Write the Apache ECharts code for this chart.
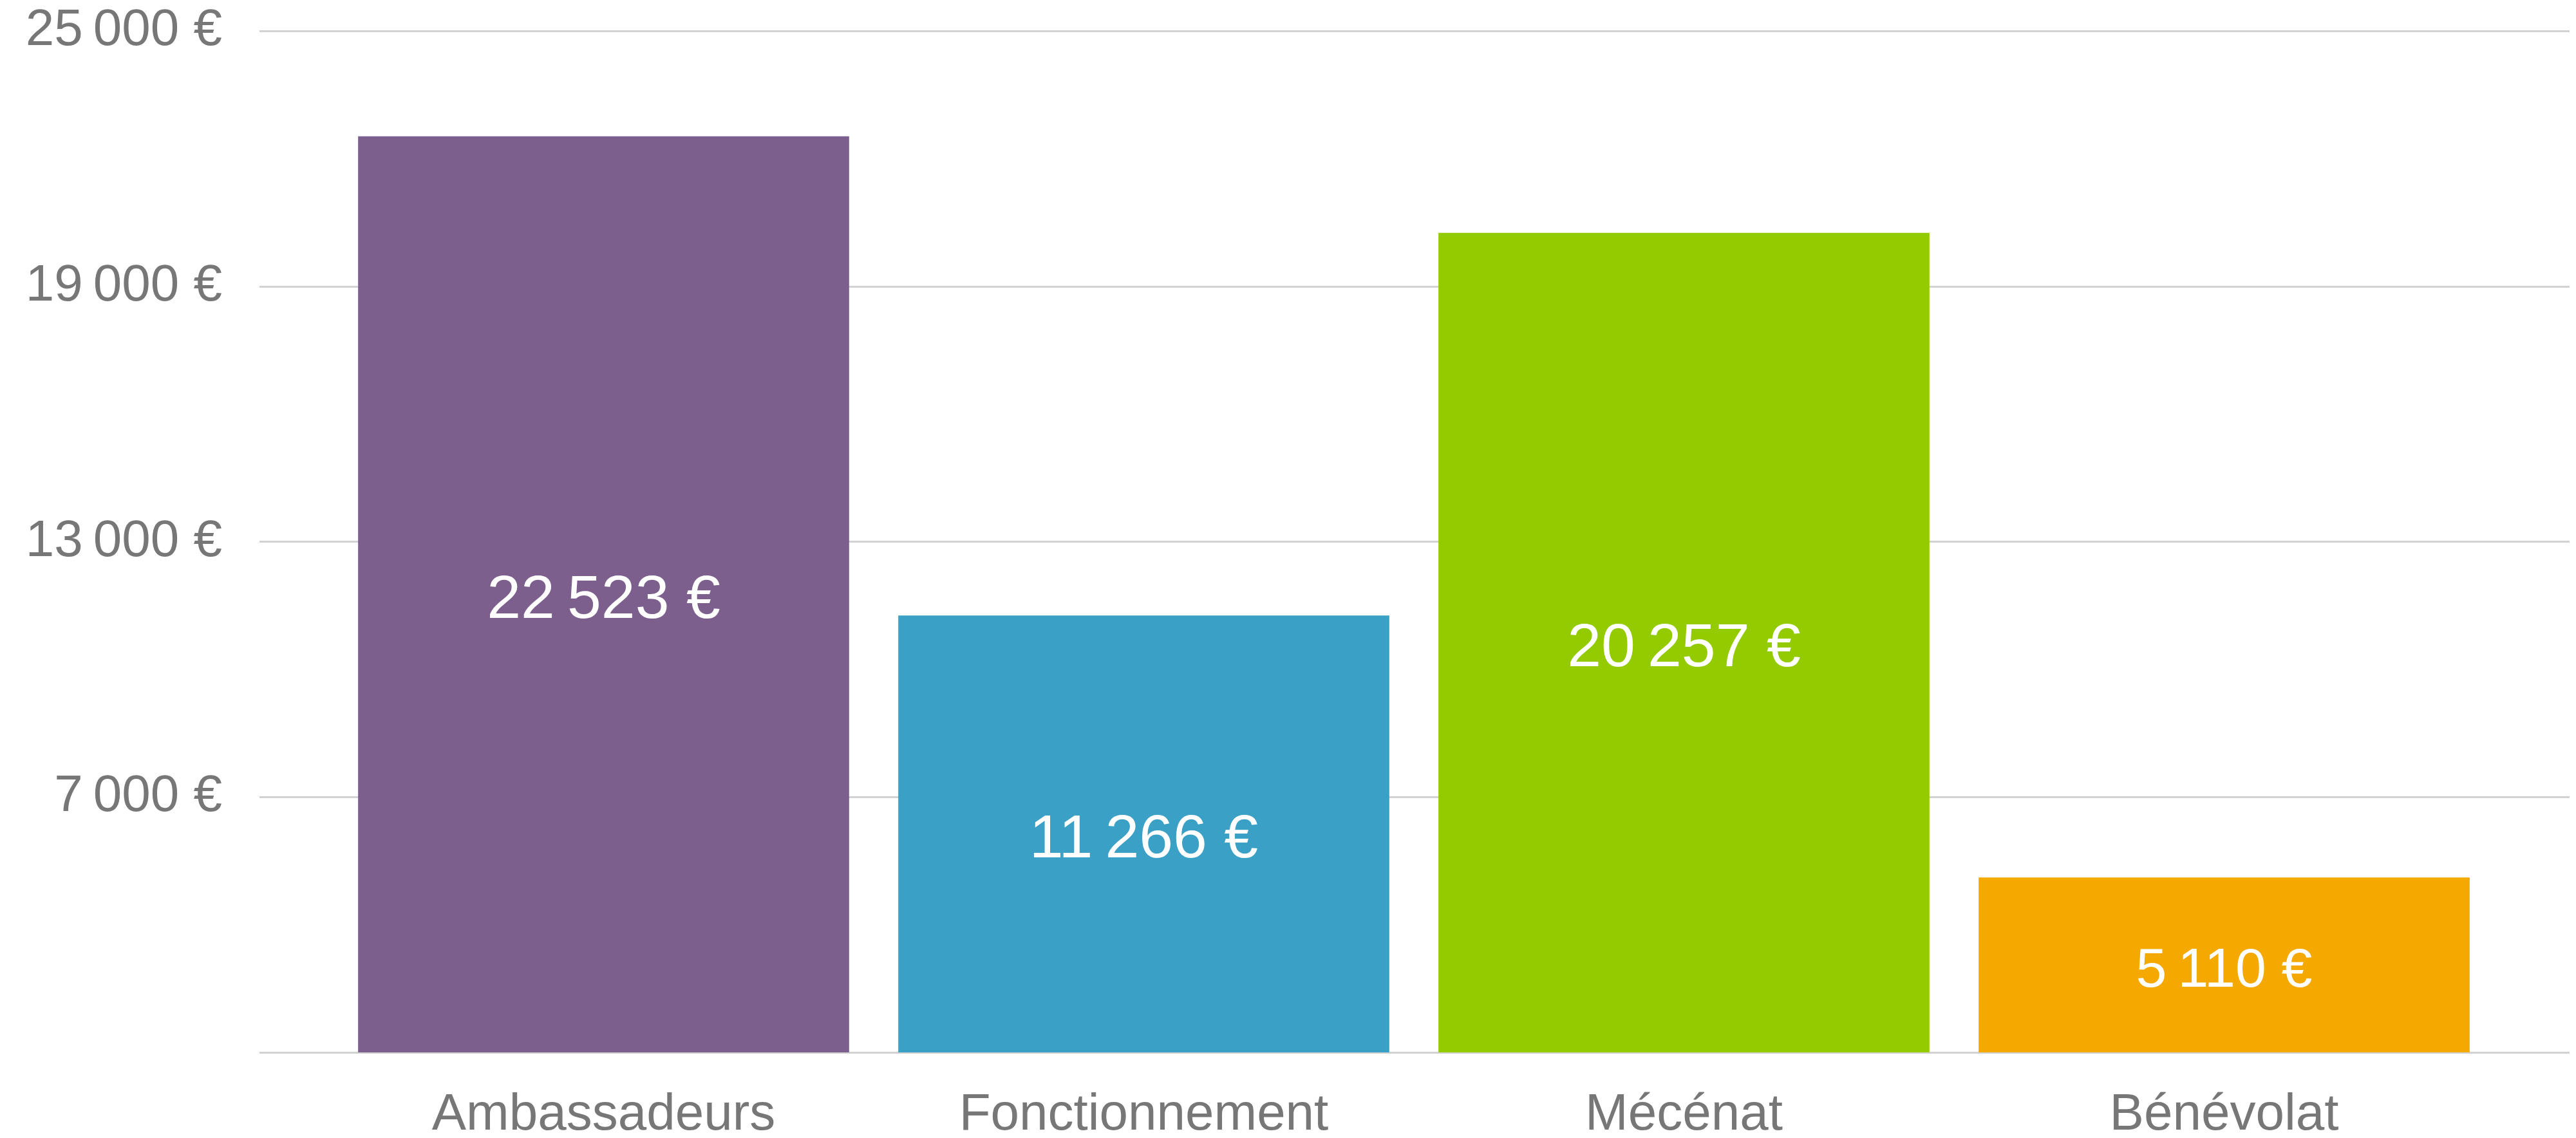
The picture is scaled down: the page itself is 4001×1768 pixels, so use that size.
<!DOCTYPE html>
<html>
<head>
<meta charset="utf-8" />
<script src="https://cdn.jsdelivr.net/npm/echarts@6/dist/echarts.min.js"></script>
<style>
  html, body { margin: 0; padding: 0; background: #fff; }
  #main { width: 4001px; height: 1768px; }
</style>
</head>
<body>
<div id="main"></div>
<script type="text/javascript">
	// données du graphique
	var categories = ['Ambassadeurs', 'Fonctionnement', 'Mécénat', 'Bénévolat'];
	var values = [22523, 11266, 20257, 5110];
	var barColors = ['#7d5f8e', '#3aa0c5', '#93cb00', '#f4a800'];
	var yTicks = [1000, 7000, 13000, 19000, 25000];

	var textGrey = '#777777';
	var gridGrey = '#d2d2d2';
	var font = '"Liberation Sans", Arial, sans-serif';
	// la petite barre a une étiquette un peu plus petite
	var labelSizes = [95, 95, 95, 86];

	// format "22 523 €" avec espace fine
	function euro(v) {
		var s = String(Math.round(v));
		s = s.replace(/\B(?=(\d{3})+(?!\d))/g, '\u202F');
		return s + ' €';
	}

	var myChart = echarts.init(document.getElementById('main'));

	var option = {
		animation: false,
		backgroundColor: '#ffffff',
		grid: [
			// lignes de grille + axe y
			{ left: 403, right: 10, top: 48, bottom: 133, outerBoundsMode: 'none' },
			// barres
			{ left: 518, right: 127, top: 48, bottom: 133, outerBoundsMode: 'none' }
		],
		xAxis: [
			{ gridIndex: 0, type: 'value', show: false, min: 0, max: 1 },
			{
				gridIndex: 1,
				type: 'category',
				data: categories,
				axisLine: { show: false },
				axisTick: { show: false },
				axisLabel: {
					color: textGrey,
					fontSize: 80,
					fontFamily: font,
					margin: 58
				}
			}
		],
		yAxis: [
			{
				gridIndex: 0,
				type: 'value',
				min: yTicks[0],
				max: yTicks[yTicks.length - 1],
				interval: yTicks[1] - yTicks[0],
				axisLine: { show: false },
				axisTick: { show: false },
				splitLine: { lineStyle: { color: gridGrey, width: 3 } },
				axisLabel: {
					color: textGrey,
					fontSize: 80,
					fontFamily: font,
					margin: 58,
					padding: [10, 0, 0, 0],
					formatter: function (v) {
						return v === yTicks[0] ? '' : euro(v);
					}
				}
			},
			{
				gridIndex: 1,
				type: 'value',
				show: false,
				min: yTicks[0],
				max: yTicks[yTicks.length - 1],
				interval: yTicks[1] - yTicks[0],
				splitLine: { show: false }
			}
		],
		series: [{
			type: 'bar',
			xAxisIndex: 1,
			yAxisIndex: 1,
			barCategoryGap: '9.1%',
			data: values.map(function (v, i) {
				return {
					value: v,
					itemStyle: { color: barColors[i] },
					label: { fontSize: labelSizes[i] }
				};
			}),
			label: {
				show: true,
				position: 'inside',
				offset: [0, 10],
				color: '#ffffff',
				fontSize: 95,
				fontFamily: font,
				formatter: function (p) { return euro(p.value); }
			}
		}]
	};

	myChart.setOption(option);
</script>
</body>
</html>
